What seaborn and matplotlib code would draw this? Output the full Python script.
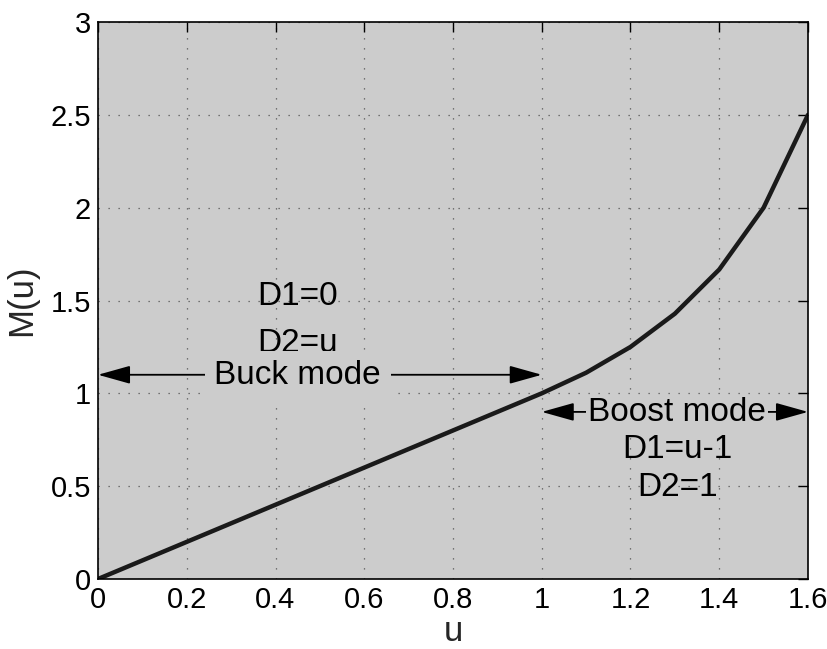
import matplotlib
matplotlib.use("Agg")
import matplotlib.pyplot as plt
import seaborn as sns
import pandas as pd

# Voltage gain of the buck-boost converter versus control variable u
u_vals = [0.0, 0.1, 0.2, 0.3, 0.4, 0.5, 0.6, 0.7, 0.8, 0.9, 1.0,
          1.1, 1.2, 1.3, 1.4, 1.5, 1.6]
m_vals = [0.0, 0.1, 0.2, 0.3, 0.4, 0.5, 0.6, 0.7, 0.8, 0.9, 1.0,
          1.111, 1.25, 1.429, 1.667, 2.0, 2.5]
x_ticks = [0, 0.2, 0.4, 0.6, 0.8, 1, 1.2, 1.4, 1.6]
x_tick_labels = ["0", "0.2", "0.4", "0.6", "0.8", "1", "1.2", "1.4", "1.6"]
y_ticks = [0, 0.5, 1, 1.5, 2, 2.5, 3]
y_tick_labels = ["0", "0.5", "1", "1.5", "2", "2.5", "3"]

bg = "#cccccc"
sns.set_theme(style="white")
plt.rcParams["font.family"] = ["Liberation Sans", "DejaVu Sans"]

df = pd.DataFrame({"u": u_vals, "M": m_vals})

fig = plt.figure(figsize=(8.28, 6.49), dpi=100)
ax = fig.add_axes([98 / 828, 70 / 649, 710 / 828, 557 / 649])
ax.set_facecolor(bg)

sns.lineplot(data=df, x="u", y="M", ax=ax, color="#1a1a1a", linewidth=3.2)

ax.set_xlim(0, 1.6)
ax.set_ylim(0, 3)
ax.set_xticks(x_ticks)
ax.set_xticklabels(x_tick_labels)
ax.set_yticks(y_ticks)
ax.set_yticklabels(y_tick_labels)
ax.tick_params(direction="in", length=7, width=1, colors="black",
               labelsize=21, top=True, right=True, pad=5)
ax.grid(True, linestyle=(0, (1, 7)), color="#555555", linewidth=0.9)
for s in ax.spines.values():
    s.set_visible(True)
    s.set_color("black")
    s.set_linewidth(1.2)

ax.set_xlabel("u", fontsize=25, labelpad=1)
ax.set_ylabel("M(u)", fontsize=25, labelpad=9)

arrow_kw = dict(arrowstyle="<|-|>,head_length=1.0,head_width=0.28",
                color="black", lw=1.3, shrinkA=0, shrinkB=0,
                mutation_scale=20)
ax.annotate("", xy=(0.0, 1.1), xytext=(1.0, 1.1), arrowprops=arrow_kw)
ax.annotate("", xy=(1.0, 0.9), xytext=(1.6, 0.9), arrowprops=arrow_kw)

txt = dict(fontsize=24, ha="center", va="center", color="black")
ax.text(0.45, 1.52, "D1=0", **txt)
ax.text(0.45, 1.27, "D2=u", **txt)
ax.text(0.45, 1.095, "Buck mode",
        bbox=dict(facecolor=bg, edgecolor="none", pad=7), **txt)
ax.text(1.305, 0.895, "Boost mode",
        bbox=dict(facecolor=bg, edgecolor="none", pad=1.5), **txt)
ax.text(1.305, 0.695, "D1=u-1", **txt)
ax.text(1.305, 0.495, "D2=1", **txt)

fig.savefig("out.png", dpi=100)
